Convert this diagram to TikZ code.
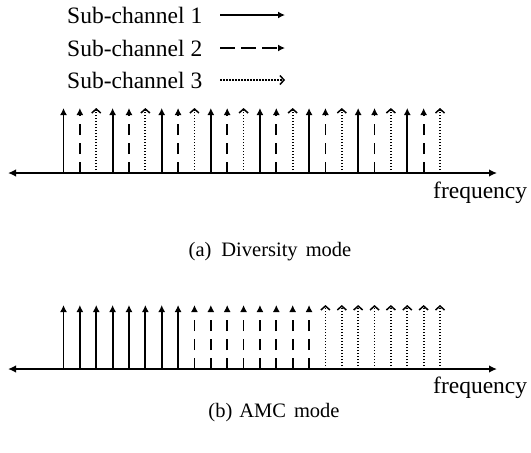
\documentclass[tikz,border=0pt]{standalone}
\usepackage{fontspec}
\setmainfont{Liberation Serif}
\usetikzlibrary{arrows.meta}
\begin{document}
\begin{tikzpicture}[x=1pt,y=-1pt,
  lbl/.style={font=\fontsize{23.5}{28}\selectfont, inner sep=0pt},
  captxt/.style={font=\fontsize{20.5}{24}\selectfont, inner sep=0pt},
  sol/.style={line width=1.8pt, -{Latex[length=7pt,width=7pt]}},
  dsh/.style={line width=1.8pt, dash pattern=on 11pt off 8pt, -{Latex[length=7pt,width=7pt]}},
  dshl/.style={line width=1.8pt, dash pattern=on 15pt off 6pt, -{Latex[length=7pt,width=7pt]}},
  dtt/.style={line width=1.8pt, dash pattern=on 1.5pt off 1.5pt, -{Straight Barb[length=4pt,width=9pt,line width=1.5pt]}},
  ax/.style={line width=1.5pt, {Latex[length=8pt,width=7.5pt]}-{Latex[length=8pt,width=7.5pt]}}]
\useasboundingbox (0,0) rectangle (531,453);
% legend
\node[lbl, anchor=west] (l1) at (67,15) {Sub-channel 1};
\node[lbl, anchor=west] (l2) at (67,48) {Sub-channel 2};
\node[lbl, anchor=west] (l3) at (67,80) {Sub-channel 3};
\coordinate (s1) at (220,15); \coordinate (e1) at (285,15);
\coordinate (s2) at (220,48); \coordinate (e2) at (285,48);
\coordinate (s3) at (220,80); \coordinate (e3) at (285,80);
\draw[sol] (s1) -- (e1);
\draw[dshl] (s2) -- (e2);
\draw[dtt] (s3) -- (e3);
% (a) diversity mode
\coordinate (aL) at (8,173); \coordinate (aR) at (497,173);
\draw[ax] (aL) -- (aR);
\foreach \i in {0,3,...,21} {\draw[sol] (63.5+\i*16.37,173) -- ++(0,-65);}
\foreach \i in {1,4,...,22} {\draw[dsh] (63.5+\i*16.37,173) -- ++(0,-65);}
\foreach \i in {2,5,...,23} {\draw[dtt] (63.5+\i*16.37,173) -- ++(0,-65);}
\node[lbl, anchor=west] (fa) at (433,193) {frequency};
\node[captxt] (ca) at (270,252) {(a)\hspace{10pt}Diversity\hspace{8pt}mode};
% (b) AMC mode
\coordinate (bL) at (8,369); \coordinate (bR) at (497,369);
\draw[ax] (bL) -- (bR);
\foreach \i in {0,...,7} {\draw[sol] (63.5+\i*16.37,369) -- ++(0,-64);}
\foreach \i in {8,...,15} {\draw[dsh] (63.5+\i*16.37,369) -- ++(0,-64);}
\foreach \i in {16,...,23} {\draw[dtt] (63.5+\i*16.37,369) -- ++(0,-64);}
\node[lbl, anchor=west] (fb) at (433,388) {frequency};
\node[captxt] (cb) at (274,413) {(b)\hspace{7pt}AMC\hspace{8pt}mode};
\end{tikzpicture}
\end{document}
